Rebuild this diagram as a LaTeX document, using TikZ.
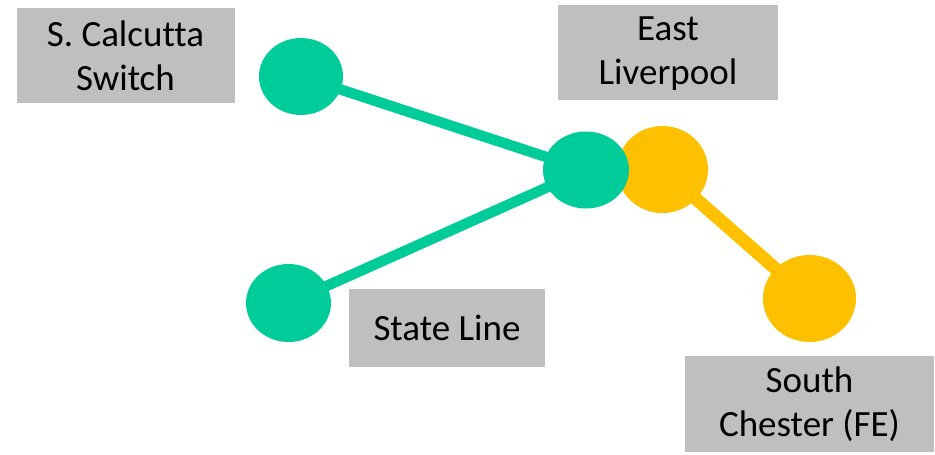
\documentclass[tikz,border=0pt]{standalone}
\usepackage{fontspec}
\setmainfont[Ligatures=NoCommon]{Carlito}
\definecolor{grn}{RGB}{0,204,153}
\definecolor{ylw}{RGB}{255,192,0}
\definecolor{gbox}{RGB}{191,191,191}
\begin{document}
\begin{tikzpicture}[x=1pt,y=-1pt,
  lbl/.style={fill=gbox,inner sep=0pt,align=center,font=\fontsize{37}{44}\selectfont},
  gline/.style={draw=grn,line width=10.5pt},
  yline/.style={draw=ylw,line width=13pt}]
\useasboundingbox (0,0) rectangle (935,455);
% labels
\node[lbl,minimum width=218pt,minimum height=95pt] (lcal) at (125.5,55.5) {S. Calcutta\\Switch};
\node[lbl,minimum width=220pt,minimum height=95pt,text depth=4pt] (least) at (668,52.5) {East\\Liverpool};
\node[lbl,minimum width=196pt,minimum height=78pt] (lstate) at (447,328) {State Line};
\node[lbl,minimum width=249pt,minimum height=96pt] (lsouth) at (809.5,404) {South\\Chester (FE)};
% node centers
\coordinate (cal) at (301,76.5);
\coordinate (el) at (586,170);
\coordinate (ely) at (662.5,169.5);
\coordinate (st) at (288.5,303);
\coordinate (sc) at (809.5,298.5);
% connectors
\draw[yline] (ely) -- (sc);
\draw[gline] (cal) -- (el);
\draw[gline] (st) -- (el);
% dots
\fill[ylw] (ely) ellipse [x radius=45.5, y radius=43.5];
\fill[ylw] (sc) ellipse [x radius=46.5, y radius=43.5];
\fill[grn] (cal) ellipse [x radius=42, y radius=38.5];
\fill[grn] (el) ellipse [x radius=43, y radius=38.5];
\fill[grn] (st) ellipse [x radius=42.5, y radius=39];
\end{tikzpicture}
\end{document}
